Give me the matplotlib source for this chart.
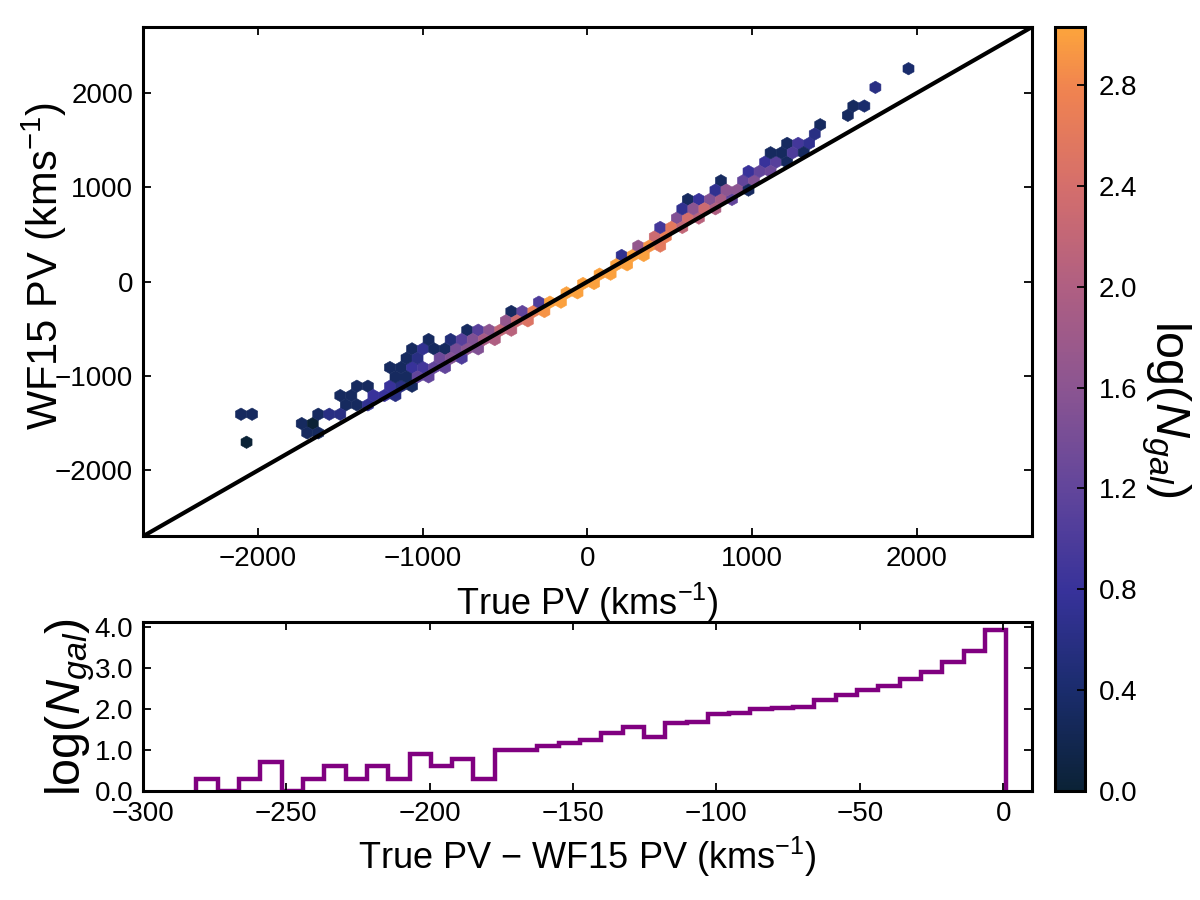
import matplotlib
matplotlib.use("Agg")
import matplotlib.pyplot as plt
from matplotlib.colors import LinearSegmentedColormap
import numpy as np

# hexbin cells: centre (True PV, WF15 PV) and log10(N)
true_pv = [-2070,
           -1701, -1634,
           -1735, -1668,
           -2104, -2036, -1634, -1567, -1500,
           -1467, -1400, -1333,
           -1500, -1433, -1299, -1232, -1166,
           -1400, -1333, -1199, -1132, -1065,
           -1166, -1098, -1032, -964,
           -1199, -1132, -1065, -998, -931, -864,
           -1098, -1032, -898, -830, -764,
           -1065, -998, -931, -864, -797, -730, -663,
           -964, -830, -764, -696, -630, -562,
           -730, -663, -596, -529, -462,
           -496, -428, -362,
           -462, -395, -328, -261,
           -294, -228, -160,
           -127, -60,
           -26, 40,
           74, 141,
           174, 242,
           208, 275, 342,
           308, 376, 442,
           409, 476,
           442, 510, 576,
           543, 610, 677,
           576, 644, 710, 778,
           610, 677, 744, 811, 878,
           778, 844, 912, 978,
           811, 945, 1012,
           978, 1046, 1112,
           1079, 1146, 1213,
           1112, 1180, 1246, 1314,
           1213, 1280, 1347,
           1380,
           1414,
           1582,
           1615, 1682,
           1749,
           1950]
wf15_pv = [-1702,
           -1603, -1603,
           -1504, -1504,
           -1405, -1405, -1405, -1405, -1405,
           -1306, -1306, -1306,
           -1207, -1207, -1207, -1207, -1207,
           -1108, -1108, -1108, -1108, -1108,
           -1009, -1009, -1009, -1009,
           -910, -910, -910, -910, -910, -910,
           -811, -811, -811, -811, -811,
           -712, -712, -712, -712, -712, -712, -712,
           -613, -613, -613, -613, -613, -613,
           -514, -514, -514, -514, -514,
           -415, -415, -415,
           -316, -316, -316, -316,
           -217, -217, -217,
           -118, -118,
           -19, -19,
           80, 80,
           179, 179,
           278, 278, 278,
           377, 377, 377,
           476, 476,
           575, 575, 575,
           674, 674, 674,
           773, 773, 773, 773,
           872, 872, 872, 872, 872,
           971, 971, 971, 971,
           1070, 1070, 1070,
           1169, 1169, 1169,
           1268, 1268, 1268,
           1367, 1367, 1367, 1367,
           1466, 1466, 1466,
           1565,
           1664,
           1763,
           1862, 1862,
           2060,
           2258]
log_ngal = [0.0,
            0.3, 0.3,
            0.3, 0.0,
            0.3, 0.3, 0.3, 0.6, 0.6,
            0.3, 0.3, 0.7,
            0.3, 0.3, 0.8, 0.8, 0.6,
            0.3, 0.3, 0.8, 0.6, 0.3,
            0.3, 0.3, 1.2, 1.2,
            0.3, 0.3, 0.8, 0.9, 1.2, 1.2,
            0.3, 0.6, 1.3, 1.5, 1.0,
            0.3, 0.7, 0.3, 0.3, 1.4, 1.6, 1.5,
            0.3, 0.5, 1.1, 1.5, 1.9, 2.0,
            0.3, 1.1, 1.6, 2.2, 2.1,
            1.7, 2.3, 2.5,
            0.3, 1.2, 2.7, 2.9,
            1.0, 3.0, 3.0,
            3.0, 3.0,
            3.0, 3.0,
            3.0, 3.0,
            3.0, 3.0,
            0.7, 3.0, 3.0,
            1.7, 2.9, 2.6,
            2.3, 2.7,
            0.9, 2.6, 2.2,
            1.5, 2.4, 2.1,
            0.7, 1.6, 2.3, 2.0,
            0.3, 0.8, 1.5, 1.9, 1.2,
            0.7, 1.6, 1.6, 0.3,
            0.3, 1.2, 1.5,
            0.8, 1.2, 1.3,
            0.8, 1.1, 0.3,
            0.3, 0.3, 1.0, 0.3,
            0.3, 0.9, 0.7,
            0.6,
            0.3,
            0.3,
            0.3, 0.4,
            0.6,
            0.4]

# histogram of True PV - WF15 PV (log10 counts per bin)
hist_lo, hist_hi = -281.3, 1.0
hist_logn = [0.30, 0.0, 0.30, 0.70, 0.0, 0.30, 0.60, 0.30, 0.60, 0.30,
             0.90, 0.60, 0.78, 0.30, 1.00, 1.00, 1.11, 1.17, 1.25, 1.41,
             1.56, 1.31, 1.66, 1.69, 1.88, 1.89, 2.00, 2.02, 2.05, 2.22,
             2.35, 2.45, 2.55, 2.74, 2.89, 3.15, 3.42, 3.92]
hist_edges = np.linspace(hist_lo, hist_hi, len(hist_logn) + 1)

cmap = LinearSegmentedColormap.from_list("pv", [
    (0.00, "#0b2236"), (0.13, "#1a2c6c"), (0.26, "#37329a"),
    (0.40, "#63469b"), (0.53, "#8c5591"), (0.66, "#af5f82"),
    (0.79, "#d46e6c"), (0.92, "#f08350"), (1.00, "#fca43c")])

plt.rcParams['font.family'] = ['Liberation Sans', 'DejaVu Sans']
plt.rcParams['mathtext.fontset'] = 'custom'
plt.rcParams['mathtext.rm'] = 'Liberation Sans'
plt.rcParams['mathtext.it'] = 'Liberation Sans:italic'
plt.rcParams['axes.linewidth'] = 2.2
for a in ('xtick', 'ytick'):
    plt.rcParams[a + '.direction'] = 'in'
    plt.rcParams[a + '.major.size'] = 6
    plt.rcParams[a + '.major.width'] = 1.3
    plt.rcParams[a + '.labelsize'] = 20
    plt.rcParams[a + '.major.pad'] = 7

fig = plt.figure(figsize=(12, 9), dpi=100)
ax = fig.add_axes([0.119, 0.404, 0.741, 0.566])
ax2 = fig.add_axes([0.119, 0.121, 0.741, 0.188])
cax = fig.add_axes([0.879, 0.121, 0.025, 0.849])

hb = ax.hexbin(true_pv, wf15_pv, C=log_ngal, reduce_C_function=np.max,
               gridsize=(70, 23), extent=(-2405, 2285, -2098, 2456),
               cmap=cmap, vmin=0, vmax=3.03, edgecolors='face', linewidths=0.4)
ax.plot([-2700, 2700], [-2700, 2700], color='k', lw=3)
ax.set_xlim(-2700, 2700)
ax.set_ylim(-2700, 2700)
ax.set_xticks([-2000, -1000, 0, 1000, 2000])
ax.set_yticks([-2000, -1000, 0, 1000, 2000])
ax.tick_params(top=True, right=True)
ax.set_xlabel('True PV (kms$^{-1}$)', fontsize=26, labelpad=6)
ax.set_ylabel('WF15 PV (kms$^{-1}$)', fontsize=30, labelpad=-10)
ax.yaxis.label.set_y(0.53)

cb = fig.colorbar(hb, cax=cax, ticks=[0.0, 0.4, 0.8, 1.2, 1.6, 2.0, 2.4, 2.8], format='%.1f')
cb.outline.set_linewidth(2.2)
cax.tick_params(direction='in', length=6, width=1.3, labelsize=20, pad=10)
cb.set_label('log($N_{gal}$)', fontsize=35, rotation=270, labelpad=40)

ax2.stairs(hist_logn, hist_edges, color='purple', lw=3.2)
ax2.set_xlim(-300, 10)
ax2.set_ylim(0, 4.12)
ax2.set_yticks([0, 1, 2, 3, 4])
ax2.yaxis.set_major_formatter(matplotlib.ticker.FormatStrFormatter('%.1f'))
ax2.tick_params(top=True, right=True)
ax2.set_xlabel('True PV $-$ WF15 PV (kms$^{-1}$)', fontsize=26, labelpad=6)
ax2.set_ylabel('log($N_{gal}$)', fontsize=35, labelpad=-2)

fig.savefig('out.png', dpi=100)
